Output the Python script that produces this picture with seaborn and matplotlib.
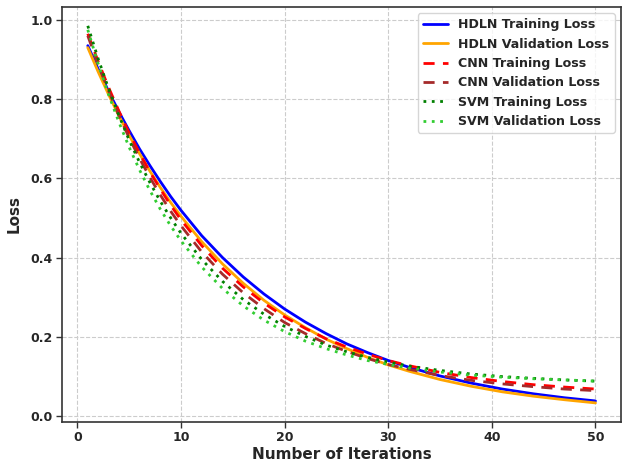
import numpy as np
import pandas as pd
import matplotlib
matplotlib.use("Agg")
import matplotlib.pyplot as plt
import seaborn as sns

iterations = [1, 2, 3, 4, 5, 6, 7, 8, 9, 10, 12, 14, 16, 18, 20, 22, 24, 26,
              28, 30, 32, 35, 38, 41, 44, 47, 50]

hdln_train = [0.935, 0.876, 0.820, 0.768, 0.720, 0.674, 0.632, 0.592, 0.554, 0.519,
              0.455, 0.400, 0.351, 0.308, 0.270, 0.237, 0.208, 0.182, 0.160, 0.140,
              0.123, 0.101, 0.083, 0.068, 0.056, 0.046, 0.038]
hdln_val = [0.930, 0.869, 0.812, 0.758, 0.708, 0.662, 0.618, 0.577, 0.539, 0.504,
            0.440, 0.384, 0.335, 0.292, 0.255, 0.223, 0.194, 0.170, 0.148, 0.129,
            0.113, 0.092, 0.075, 0.061, 0.050, 0.041, 0.033]
cnn_train = [0.965, 0.895, 0.830, 0.770, 0.714, 0.663, 0.616, 0.573, 0.532, 0.495,
             0.430, 0.373, 0.326, 0.285, 0.250, 0.221, 0.195, 0.174, 0.156, 0.140,
             0.127, 0.110, 0.097, 0.087, 0.079, 0.073, 0.068]
cnn_val = [0.960, 0.887, 0.821, 0.759, 0.702, 0.650, 0.602, 0.558, 0.517, 0.480,
           0.414, 0.358, 0.311, 0.271, 0.236, 0.208, 0.183, 0.163, 0.145, 0.130,
           0.118, 0.102, 0.090, 0.081, 0.074, 0.068, 0.064]
svm_train = [0.985, 0.902, 0.827, 0.759, 0.696, 0.640, 0.589, 0.542, 0.500, 0.461,
             0.395, 0.340, 0.294, 0.257, 0.226, 0.201, 0.179, 0.162, 0.148, 0.136,
             0.126, 0.115, 0.106, 0.0995, 0.095, 0.091, 0.088]
svm_val = [0.975, 0.889, 0.812, 0.742, 0.678, 0.621, 0.569, 0.522, 0.480, 0.442,
           0.376, 0.322, 0.278, 0.242, 0.213, 0.189, 0.170, 0.154, 0.140, 0.130,
           0.121, 0.111, 0.103, 0.098, 0.094, 0.091, 0.088]

series_labels = ["HDLN Training Loss", "HDLN Validation Loss", "CNN Training Loss",
                 "CNN Validation Loss", "SVM Training Loss", "SVM Validation Loss"]
series_values = [hdln_train, hdln_val, cnn_train, cnn_val, svm_train, svm_val]

colors = ["blue", "orange", "red", "brown", "green", "limegreen"]
styles = ["-", "-", (0, (4, 3)), (0, (4, 3)), (0, (1, 2)), (0, (1, 2))]

sns.set_style("whitegrid", {"grid.linestyle": "--", "grid.color": "#cccccc",
                            "axes.edgecolor": "#333333", "xtick.bottom": True,
                            "ytick.left": True})
plt.rcParams["font.family"] = ["DejaVu Sans"]

fig, ax = plt.subplots(figsize=(6.24, 4.65), dpi=100)

for lab, vals, c, ls in zip(series_labels, series_values, colors, styles):
    df = pd.DataFrame({"Iteration": iterations, "Loss": vals})
    sns.lineplot(data=df, x="Iteration", y="Loss", ax=ax, color=c, linestyle=ls,
                 linewidth=2, label=lab)

ax.set_xlabel("Number of Iterations", fontsize=11, fontweight="bold", labelpad=2)
ax.set_ylabel("Loss", fontsize=11, fontweight="bold", labelpad=6)
ax.set_xticks([0, 10, 20, 30, 40, 50])
ax.set_yticks([0.0, 0.2, 0.4, 0.6, 0.8, 1.0])
for t in ax.get_xticklabels() + ax.get_yticklabels():
    t.set_fontweight("bold")
    t.set_fontsize(9)
ax.tick_params(axis="both", length=4, width=1, color="#333333", pad=3)
ax.grid(True, linestyle="--", color="#cccccc", linewidth=0.8)
for sp in ax.spines.values():
    sp.set_linewidth(1.2)

leg = ax.legend(loc="upper right", prop={"weight": "bold", "size": 9.1},
                frameon=True, handlelength=2.0)

fig.subplots_adjust(left=0.1, right=0.995, bottom=0.093, top=0.985)
fig.savefig("out.png", dpi=100)
